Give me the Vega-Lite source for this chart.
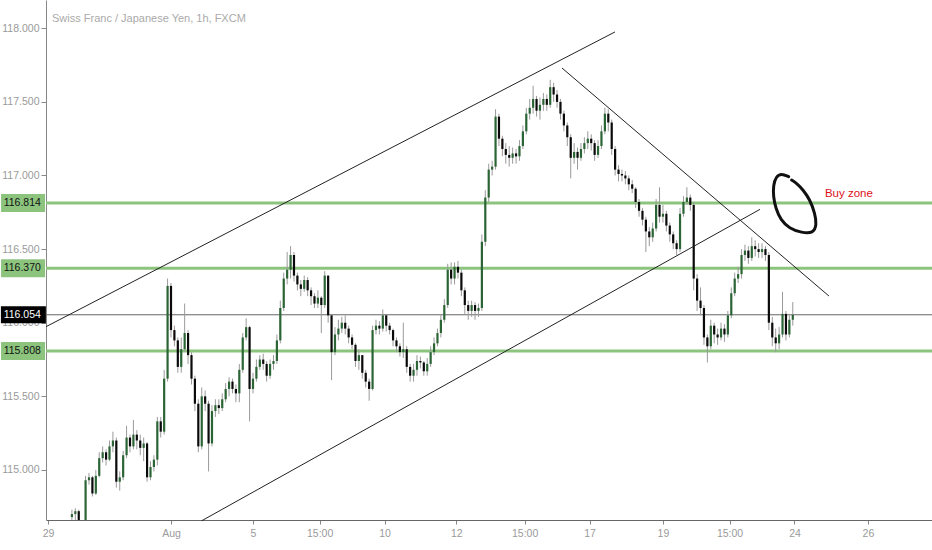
{
"$schema": "https://vega.github.io/schema/vega-lite/v6.json",
"width": 886, "height": 520,
"autosize": {"type": "none"},
"padding": {"left": 46, "top": 0, "right": 0, "bottom": 30},
"background": "white",
"config": {"view": {"stroke": null}, "axis": {"grid": false, "labelFont": "Liberation Sans", "labelFontSize": 10.5, "labelColor": "#9a9a9a", "domainColor": "#888888", "tickColor": "#888888", "title": null}},
"title": {"text": "Swiss Franc / Japanese Yen, 1h, FXCM", "anchor": "start", "frame": "group", "offset": -20, "dx": 6, "dy": 13, "font": "Liberation Sans", "fontSize": 11, "fontWeight": "normal", "color": "#aaaaaa", "baseline": "alphabetic"},
"datasets": {
"k": [
{"t":14,"o":114.68,"hi":114.73,"lo":114.64,"c":114.70},
{"t":16,"o":114.70,"hi":114.74,"lo":114.66,"c":114.72},
{"t":18,"o":114.72,"hi":114.73,"lo":114.56,"c":114.60},
{"t":20,"o":114.60,"hi":114.62,"lo":114.55,"c":114.58},
{"t":22,"o":114.58,"hi":114.96,"lo":114.56,"c":114.93},
{"t":24,"o":114.93,"hi":114.98,"lo":114.90,"c":114.95},
{"t":26,"o":114.95,"hi":114.96,"lo":114.82,"c":114.84},
{"t":28,"o":114.84,"hi":115.00,"lo":114.83,"c":114.96},
{"t":30,"o":114.96,"hi":115.12,"lo":114.95,"c":115.08},
{"t":32,"o":115.08,"hi":115.16,"lo":115.05,"c":115.12},
{"t":34,"o":115.12,"hi":115.14,"lo":115.03,"c":115.07},
{"t":36,"o":115.07,"hi":115.20,"lo":115.06,"c":115.16},
{"t":38,"o":115.16,"hi":115.26,"lo":115.12,"c":115.20},
{"t":40,"o":115.20,"hi":115.22,"lo":114.88,"c":114.92},
{"t":42,"o":114.92,"hi":114.99,"lo":114.86,"c":114.95},
{"t":44,"o":114.95,"hi":115.13,"lo":114.93,"c":115.10},
{"t":46,"o":115.10,"hi":115.30,"lo":115.08,"c":115.22},
{"t":48,"o":115.22,"hi":115.24,"lo":115.12,"c":115.16},
{"t":50,"o":115.16,"hi":115.34,"lo":115.14,"c":115.24},
{"t":52,"o":115.24,"hi":115.27,"lo":115.14,"c":115.20},
{"t":54,"o":115.20,"hi":115.24,"lo":115.10,"c":115.15},
{"t":56,"o":115.15,"hi":115.22,"lo":115.06,"c":115.18},
{"t":58,"o":115.18,"hi":115.19,"lo":114.92,"c":114.95},
{"t":60,"o":114.95,"hi":115.06,"lo":114.93,"c":115.02},
{"t":62,"o":115.02,"hi":115.10,"lo":114.99,"c":115.07},
{"t":64,"o":115.07,"hi":115.36,"lo":115.03,"c":115.33},
{"t":66,"o":115.33,"hi":115.36,"lo":115.22,"c":115.26},
{"t":68,"o":115.26,"hi":115.68,"lo":115.24,"c":115.62},
{"t":70,"o":115.62,"hi":116.30,"lo":115.60,"c":116.25},
{"t":72,"o":116.25,"hi":116.27,"lo":115.90,"c":115.95},
{"t":74,"o":115.95,"hi":115.98,"lo":115.84,"c":115.88},
{"t":76,"o":115.88,"hi":115.90,"lo":115.66,"c":115.70},
{"t":78,"o":115.70,"hi":115.90,"lo":115.66,"c":115.82},
{"t":80,"o":115.82,"hi":116.13,"lo":115.80,"c":115.93},
{"t":82,"o":115.93,"hi":115.95,"lo":115.72,"c":115.78},
{"t":84,"o":115.78,"hi":115.80,"lo":115.58,"c":115.62},
{"t":86,"o":115.62,"hi":115.64,"lo":115.40,"c":115.45},
{"t":88,"o":115.45,"hi":115.48,"lo":115.12,"c":115.16},
{"t":90,"o":115.16,"hi":115.56,"lo":115.14,"c":115.50},
{"t":92,"o":115.50,"hi":115.54,"lo":115.40,"c":115.45},
{"t":94,"o":115.45,"hi":115.47,"lo":114.99,"c":115.18},
{"t":96,"o":115.18,"hi":115.44,"lo":115.16,"c":115.40},
{"t":98,"o":115.40,"hi":115.48,"lo":115.36,"c":115.44},
{"t":100,"o":115.44,"hi":115.48,"lo":115.38,"c":115.42},
{"t":102,"o":115.42,"hi":115.52,"lo":115.40,"c":115.48},
{"t":104,"o":115.48,"hi":115.59,"lo":115.46,"c":115.55},
{"t":106,"o":115.55,"hi":115.63,"lo":115.50,"c":115.60},
{"t":108,"o":115.60,"hi":115.62,"lo":115.52,"c":115.55},
{"t":110,"o":115.55,"hi":115.58,"lo":115.46,"c":115.52},
{"t":112,"o":115.52,"hi":115.72,"lo":115.46,"c":115.68},
{"t":114,"o":115.68,"hi":115.93,"lo":115.66,"c":115.90},
{"t":116,"o":115.90,"hi":116.03,"lo":115.88,"c":115.97},
{"t":118,"o":115.97,"hi":115.98,"lo":115.33,"c":115.55},
{"t":120,"o":115.55,"hi":115.66,"lo":115.52,"c":115.62},
{"t":122,"o":115.62,"hi":115.75,"lo":115.60,"c":115.70},
{"t":124,"o":115.70,"hi":115.78,"lo":115.68,"c":115.75},
{"t":126,"o":115.75,"hi":115.79,"lo":115.68,"c":115.72},
{"t":128,"o":115.72,"hi":115.74,"lo":115.60,"c":115.64},
{"t":130,"o":115.64,"hi":115.75,"lo":115.62,"c":115.72},
{"t":132,"o":115.72,"hi":115.78,"lo":115.68,"c":115.74},
{"t":134,"o":115.74,"hi":115.92,"lo":115.72,"c":115.88},
{"t":136,"o":115.88,"hi":116.15,"lo":115.86,"c":116.10},
{"t":138,"o":116.10,"hi":116.34,"lo":116.08,"c":116.30},
{"t":140,"o":116.30,"hi":116.48,"lo":116.26,"c":116.36},
{"t":142,"o":116.36,"hi":116.52,"lo":116.30,"c":116.46},
{"t":144,"o":116.46,"hi":116.48,"lo":116.28,"c":116.32},
{"t":146,"o":116.32,"hi":116.34,"lo":116.22,"c":116.26},
{"t":148,"o":116.26,"hi":116.29,"lo":116.18,"c":116.23},
{"t":150,"o":116.23,"hi":116.32,"lo":116.21,"c":116.29},
{"t":152,"o":116.29,"hi":116.31,"lo":116.18,"c":116.22},
{"t":154,"o":116.22,"hi":116.24,"lo":116.12,"c":116.18},
{"t":156,"o":116.18,"hi":116.20,"lo":116.10,"c":116.13},
{"t":158,"o":116.13,"hi":116.22,"lo":116.10,"c":116.17},
{"t":160,"o":116.17,"hi":116.18,"lo":115.93,"c":116.12},
{"t":162,"o":116.12,"hi":116.35,"lo":116.10,"c":116.32},
{"t":164,"o":116.32,"hi":116.32,"lo":116.00,"c":116.05},
{"t":166,"o":116.05,"hi":116.06,"lo":115.61,"c":115.80},
{"t":168,"o":115.80,"hi":115.97,"lo":115.78,"c":115.92},
{"t":170,"o":115.92,"hi":116.02,"lo":115.88,"c":115.96},
{"t":172,"o":115.96,"hi":116.04,"lo":115.93,"c":116.00},
{"t":174,"o":116.00,"hi":116.05,"lo":115.92,"c":115.96},
{"t":176,"o":115.96,"hi":115.98,"lo":115.86,"c":115.90},
{"t":178,"o":115.90,"hi":115.92,"lo":115.82,"c":115.85},
{"t":180,"o":115.85,"hi":115.86,"lo":115.70,"c":115.74},
{"t":182,"o":115.74,"hi":115.82,"lo":115.68,"c":115.78},
{"t":184,"o":115.78,"hi":115.78,"lo":115.62,"c":115.66},
{"t":186,"o":115.66,"hi":115.68,"lo":115.56,"c":115.60},
{"t":188,"o":115.60,"hi":115.62,"lo":115.47,"c":115.55},
{"t":190,"o":115.55,"hi":115.98,"lo":115.54,"c":115.95},
{"t":192,"o":115.95,"hi":116.02,"lo":115.92,"c":115.98},
{"t":194,"o":115.98,"hi":116.01,"lo":115.92,"c":115.96},
{"t":196,"o":115.96,"hi":116.09,"lo":115.94,"c":116.05},
{"t":198,"o":116.05,"hi":116.06,"lo":115.94,"c":115.98},
{"t":200,"o":115.98,"hi":116.00,"lo":115.92,"c":115.95},
{"t":202,"o":115.95,"hi":115.96,"lo":115.84,"c":115.88},
{"t":204,"o":115.88,"hi":115.90,"lo":115.80,"c":115.84},
{"t":206,"o":115.84,"hi":115.86,"lo":115.77,"c":115.80},
{"t":208,"o":115.80,"hi":116.00,"lo":115.76,"c":115.82},
{"t":210,"o":115.82,"hi":115.84,"lo":115.66,"c":115.70},
{"t":212,"o":115.70,"hi":115.72,"lo":115.60,"c":115.64},
{"t":214,"o":115.64,"hi":115.72,"lo":115.60,"c":115.68},
{"t":216,"o":115.68,"hi":115.78,"lo":115.64,"c":115.74},
{"t":218,"o":115.74,"hi":115.77,"lo":115.69,"c":115.73},
{"t":220,"o":115.73,"hi":115.74,"lo":115.64,"c":115.67},
{"t":222,"o":115.67,"hi":115.76,"lo":115.64,"c":115.72},
{"t":224,"o":115.72,"hi":115.84,"lo":115.70,"c":115.80},
{"t":226,"o":115.80,"hi":115.90,"lo":115.78,"c":115.86},
{"t":228,"o":115.86,"hi":115.96,"lo":115.84,"c":115.93},
{"t":230,"o":115.93,"hi":116.06,"lo":115.90,"c":116.02},
{"t":232,"o":116.02,"hi":116.16,"lo":116.00,"c":116.12},
{"t":234,"o":116.12,"hi":116.40,"lo":116.10,"c":116.36},
{"t":236,"o":116.36,"hi":116.41,"lo":116.26,"c":116.30},
{"t":238,"o":116.30,"hi":116.41,"lo":116.26,"c":116.38},
{"t":240,"o":116.38,"hi":116.42,"lo":116.30,"c":116.34},
{"t":242,"o":116.34,"hi":116.36,"lo":116.18,"c":116.22},
{"t":244,"o":116.22,"hi":116.24,"lo":116.06,"c":116.12},
{"t":246,"o":116.12,"hi":116.15,"lo":116.02,"c":116.08},
{"t":248,"o":116.08,"hi":116.15,"lo":116.04,"c":116.12},
{"t":250,"o":116.12,"hi":116.14,"lo":116.02,"c":116.08},
{"t":252,"o":116.08,"hi":116.13,"lo":116.04,"c":116.10},
{"t":254,"o":116.10,"hi":116.60,"lo":116.08,"c":116.55},
{"t":256,"o":116.55,"hi":116.90,"lo":116.52,"c":116.85},
{"t":258,"o":116.85,"hi":117.08,"lo":116.82,"c":117.04},
{"t":260,"o":117.04,"hi":117.10,"lo":117.00,"c":117.06},
{"t":262,"o":117.06,"hi":117.45,"lo":117.04,"c":117.40},
{"t":264,"o":117.40,"hi":117.42,"lo":117.20,"c":117.25},
{"t":266,"o":117.25,"hi":117.27,"lo":117.13,"c":117.18},
{"t":268,"o":117.18,"hi":117.22,"lo":117.08,"c":117.14},
{"t":270,"o":117.14,"hi":117.20,"lo":117.06,"c":117.12},
{"t":272,"o":117.12,"hi":117.19,"lo":117.08,"c":117.15},
{"t":274,"o":117.15,"hi":117.18,"lo":117.08,"c":117.13},
{"t":276,"o":117.13,"hi":117.24,"lo":117.10,"c":117.20},
{"t":278,"o":117.20,"hi":117.34,"lo":117.18,"c":117.30},
{"t":280,"o":117.30,"hi":117.46,"lo":117.28,"c":117.42},
{"t":282,"o":117.42,"hi":117.52,"lo":117.38,"c":117.46},
{"t":284,"o":117.46,"hi":117.61,"lo":117.42,"c":117.52},
{"t":286,"o":117.52,"hi":117.54,"lo":117.40,"c":117.44},
{"t":288,"o":117.44,"hi":117.53,"lo":117.38,"c":117.48},
{"t":290,"o":117.48,"hi":117.56,"lo":117.44,"c":117.52},
{"t":292,"o":117.52,"hi":117.55,"lo":117.44,"c":117.48},
{"t":294,"o":117.48,"hi":117.65,"lo":117.46,"c":117.60},
{"t":296,"o":117.60,"hi":117.63,"lo":117.50,"c":117.55},
{"t":298,"o":117.55,"hi":117.58,"lo":117.46,"c":117.50},
{"t":300,"o":117.50,"hi":117.52,"lo":117.38,"c":117.42},
{"t":302,"o":117.42,"hi":117.44,"lo":117.30,"c":117.34},
{"t":304,"o":117.34,"hi":117.36,"lo":117.20,"c":117.26},
{"t":306,"o":117.26,"hi":117.28,"lo":116.98,"c":117.12},
{"t":308,"o":117.12,"hi":117.22,"lo":117.08,"c":117.16},
{"t":310,"o":117.16,"hi":117.19,"lo":117.04,"c":117.12},
{"t":312,"o":117.12,"hi":117.22,"lo":117.10,"c":117.18},
{"t":314,"o":117.18,"hi":117.26,"lo":117.15,"c":117.22},
{"t":316,"o":117.22,"hi":117.30,"lo":117.18,"c":117.25},
{"t":318,"o":117.25,"hi":117.28,"lo":117.17,"c":117.22},
{"t":320,"o":117.22,"hi":117.24,"lo":117.10,"c":117.14},
{"t":322,"o":117.14,"hi":117.24,"lo":117.12,"c":117.20},
{"t":324,"o":117.20,"hi":117.34,"lo":117.18,"c":117.30},
{"t":326,"o":117.30,"hi":117.46,"lo":117.28,"c":117.42},
{"t":328,"o":117.42,"hi":117.45,"lo":117.30,"c":117.36},
{"t":330,"o":117.36,"hi":117.38,"lo":117.14,"c":117.18},
{"t":332,"o":117.18,"hi":117.20,"lo":117.00,"c":117.04},
{"t":334,"o":117.04,"hi":117.07,"lo":116.96,"c":117.01},
{"t":336,"o":117.01,"hi":117.04,"lo":116.96,"c":117.00},
{"t":338,"o":117.00,"hi":117.03,"lo":116.94,"c":116.98},
{"t":340,"o":116.98,"hi":117.00,"lo":116.90,"c":116.94},
{"t":342,"o":116.94,"hi":116.97,"lo":116.88,"c":116.91},
{"t":344,"o":116.91,"hi":116.92,"lo":116.78,"c":116.82},
{"t":346,"o":116.82,"hi":116.84,"lo":116.72,"c":116.76},
{"t":348,"o":116.76,"hi":116.78,"lo":116.66,"c":116.70},
{"t":350,"o":116.70,"hi":116.72,"lo":116.48,"c":116.62},
{"t":352,"o":116.62,"hi":116.65,"lo":116.52,"c":116.58},
{"t":354,"o":116.58,"hi":116.68,"lo":116.55,"c":116.64},
{"t":356,"o":116.64,"hi":116.84,"lo":116.62,"c":116.80},
{"t":358,"o":116.80,"hi":116.92,"lo":116.68,"c":116.72},
{"t":360,"o":116.72,"hi":116.80,"lo":116.68,"c":116.74},
{"t":362,"o":116.74,"hi":116.76,"lo":116.62,"c":116.66},
{"t":364,"o":116.66,"hi":116.68,"lo":116.55,"c":116.60},
{"t":366,"o":116.60,"hi":116.62,"lo":116.50,"c":116.54},
{"t":368,"o":116.54,"hi":116.56,"lo":116.46,"c":116.50},
{"t":370,"o":116.50,"hi":116.78,"lo":116.48,"c":116.74},
{"t":372,"o":116.74,"hi":116.86,"lo":116.72,"c":116.82},
{"t":374,"o":116.82,"hi":116.92,"lo":116.80,"c":116.85},
{"t":376,"o":116.85,"hi":116.87,"lo":116.76,"c":116.80},
{"t":378,"o":116.80,"hi":116.82,"lo":116.22,"c":116.30},
{"t":380,"o":116.30,"hi":116.33,"lo":116.08,"c":116.15},
{"t":382,"o":116.15,"hi":116.24,"lo":116.05,"c":116.10},
{"t":384,"o":116.10,"hi":116.12,"lo":115.85,"c":115.90},
{"t":386,"o":115.90,"hi":115.92,"lo":115.73,"c":115.84},
{"t":388,"o":115.84,"hi":116.02,"lo":115.82,"c":115.98},
{"t":390,"o":115.98,"hi":116.00,"lo":115.86,"c":115.92},
{"t":392,"o":115.92,"hi":115.96,"lo":115.85,"c":115.90},
{"t":394,"o":115.90,"hi":116.00,"lo":115.88,"c":115.96},
{"t":396,"o":115.96,"hi":115.99,"lo":115.87,"c":115.92},
{"t":398,"o":115.92,"hi":116.08,"lo":115.90,"c":116.05},
{"t":400,"o":116.05,"hi":116.24,"lo":116.03,"c":116.20},
{"t":402,"o":116.20,"hi":116.34,"lo":116.18,"c":116.30},
{"t":404,"o":116.30,"hi":116.38,"lo":116.27,"c":116.33},
{"t":406,"o":116.33,"hi":116.50,"lo":116.30,"c":116.46},
{"t":408,"o":116.46,"hi":116.53,"lo":116.42,"c":116.49},
{"t":410,"o":116.49,"hi":116.52,"lo":116.40,"c":116.44},
{"t":412,"o":116.44,"hi":116.58,"lo":116.42,"c":116.52},
{"t":414,"o":116.52,"hi":116.56,"lo":116.45,"c":116.50},
{"t":416,"o":116.50,"hi":116.54,"lo":116.44,"c":116.48},
{"t":418,"o":116.48,"hi":116.54,"lo":116.44,"c":116.50},
{"t":420,"o":116.50,"hi":116.52,"lo":116.42,"c":116.46},
{"t":422,"o":116.46,"hi":116.48,"lo":115.95,"c":116.00},
{"t":424,"o":116.00,"hi":116.04,"lo":115.84,"c":115.90},
{"t":426,"o":115.90,"hi":115.96,"lo":115.80,"c":115.86},
{"t":428,"o":115.86,"hi":115.97,"lo":115.82,"c":115.92},
{"t":430,"o":115.92,"hi":116.21,"lo":115.90,"c":116.06},
{"t":432,"o":116.06,"hi":116.08,"lo":115.88,"c":115.92},
{"t":434,"o":115.92,"hi":116.06,"lo":115.90,"c":116.02},
{"t":436,"o":116.02,"hi":116.14,"lo":115.98,"c":116.054}
],
"tl": [
{"g":"a","t":-1.17,"p":115.973},{"g":"a","t":331.9,"p":117.975},
{"g":"b","t":90.0,"p":114.655},{"g":"b","t":416.8,"p":116.770},
{"g":"c","t":300.9,"p":117.730},{"g":"c","t":457.2,"p":116.181}
],
"el": [
{"i":0,"t":433.6,"p":116.992},{"i":1,"t":429.3,"p":117.015},{"i":2,"t":426.2,"p":116.992},{"i":3,"t":424.6,"p":116.935},
{"i":4,"t":424.6,"p":116.856},{"i":5,"t":426.0,"p":116.777},{"i":6,"t":428.9,"p":116.698},{"i":7,"t":433.9,"p":116.641},
{"i":8,"t":441.2,"p":116.611},{"i":9,"t":448.0,"p":116.607},{"i":10,"t":450.0,"p":116.664},{"i":11,"t":449.0,"p":116.743},
{"i":12,"t":446.1,"p":116.834},{"i":13,"t":442.1,"p":116.902},{"i":14,"t":438.3,"p":116.947},{"i":15,"t":435.3,"p":116.969}
],
"gl": [{"p":116.814,"lab":"116.814"},{"p":116.370,"lab":"116.370"},{"p":115.808,"lab":"115.808"}],
"bl": [{"p":116.054,"lab":"116.054"}],
"nt": [{"t":454.8,"p":116.854,"lab":"Buy zone"}]
},
"layer": [
{"data": {"name": "gl"}, "mark": {"type": "rule", "color": "#8cc47e", "strokeWidth": 3},
 "encoding": {"y": {"field": "p", "type": "quantitative", "scale": {"domain": [114.66, 118.192], "nice": false, "zero": false}, "axis": {"values": [115, 115.5, 116, 116.5, 117, 117.5, 118], "format": ".3f", "tickSize": 5, "labelPadding": 2}}}},
{"data": {"name": "bl"}, "mark": {"type": "rule", "color": "#666666", "strokeWidth": 1},
 "encoding": {"y": {"field": "p", "type": "quantitative"}}},
{"data": {"name": "k"}, "mark": {"type": "rule", "color": "#9a9a9a", "strokeWidth": 1, "clip": true},
 "encoding": {"x": {"field": "t", "type": "quantitative", "scale": {"domain": [-1.17, 517.5], "nice": false, "zero": false},
   "axis": {"values": [0, 72, 120, 159, 197, 239, 279, 317, 360, 399, 437, 480], "labelExpr": "datum.value==0?'29':datum.value==72?'Aug':datum.value==120?'5':datum.value==159?'15:00':datum.value==197?'10':datum.value==239?'12':datum.value==279?'15:00':datum.value==317?'17':datum.value==360?'19':datum.value==399?'15:00':datum.value==437?'24':'26'", "tickSize": 4, "labelPadding": 4, "labelFlush": false, "labelOverlap": false, "domainColor": "#666666"}},
  "y": {"field": "lo", "type": "quantitative"}, "y2": {"field": "hi"}}},
{"data": {"name": "k"}, "mark": {"type": "rule", "strokeWidth": 2.2, "clip": true},
 "encoding": {"x": {"field": "t", "type": "quantitative"}, "y": {"field": "o", "type": "quantitative"}, "y2": {"field": "c"},
  "color": {"condition": {"test": "datum.c >= datum.o", "value": "#2b6535"}, "value": "#0a0a0a"}}},
{"data": {"name": "tl"}, "mark": {"type": "line", "color": "#222222", "strokeWidth": 1},
 "encoding": {"x": {"field": "t", "type": "quantitative"}, "y": {"field": "p", "type": "quantitative"}, "detail": {"field": "g"}}},
{"data": {"name": "el"}, "mark": {"type": "line", "color": "#111111", "strokeWidth": 3, "strokeCap": "round", "strokeJoin": "round", "interpolate": "basis"},
 "encoding": {"x": {"field": "t", "type": "quantitative"}, "y": {"field": "p", "type": "quantitative"}, "order": {"field": "i"}}},
{"data": {"name": "nt"}, "mark": {"type": "text", "color": "#e0101a", "font": "Liberation Sans", "fontSize": 11.5, "align": "left", "baseline": "alphabetic"},
 "encoding": {"x": {"field": "t", "type": "quantitative"}, "y": {"field": "p", "type": "quantitative"}, "text": {"field": "lab"}}},
{"data": {"name": "gl"}, "mark": {"type": "tick", "orient": "horizontal", "size": 44, "thickness": 18, "opacity": 1, "color": "#8cc47e", "clip": false},
 "encoding": {"x": {"datum": -14.6, "type": "quantitative"}, "y": {"field": "p", "type": "quantitative"}}},
{"data": {"name": "bl"}, "mark": {"type": "tick", "orient": "horizontal", "size": 45, "thickness": 17, "opacity": 1, "color": "#000000", "clip": false},
 "encoding": {"x": {"datum": -14.4, "type": "quantitative"}, "y": {"field": "p", "type": "quantitative"}}},
{"data": {"name": "gl"}, "mark": {"type": "text", "color": "#111111", "font": "Liberation Sans", "fontSize": 10.5, "align": "right", "baseline": "middle"},
 "encoding": {"x": {"datum": -4.2, "type": "quantitative"}, "y": {"field": "p", "type": "quantitative"}, "text": {"field": "lab"}}},
{"data": {"name": "bl"}, "mark": {"type": "text", "color": "#ffffff", "font": "Liberation Sans", "fontSize": 10.5, "align": "right", "baseline": "middle"},
 "encoding": {"x": {"datum": -4.2, "type": "quantitative"}, "y": {"field": "p", "type": "quantitative"}, "text": {"field": "lab"}}}
]
}
